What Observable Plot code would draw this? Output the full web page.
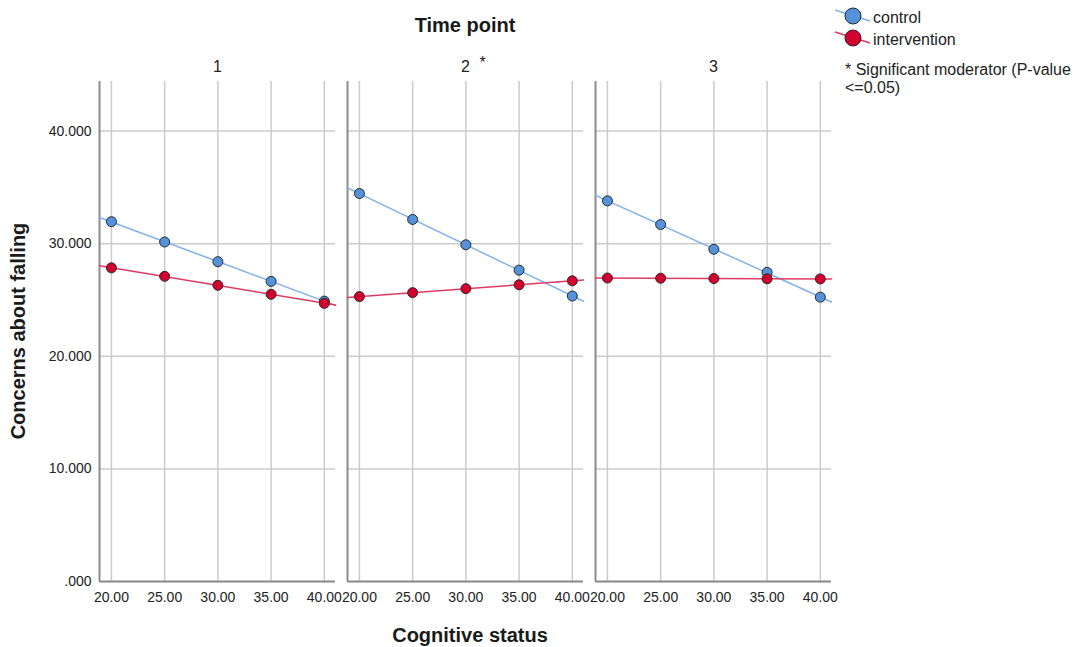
<!DOCTYPE html>
<html>
<head>
<meta charset="utf-8">
<script src="https://cdn.jsdelivr.net/npm/d3@7"></script>
<script src="https://cdn.jsdelivr.net/npm/@observablehq/plot@0.6"></script>
<style>
  html, body { margin: 0; padding: 0; background: #fff; }
  #wrap { position: relative; width: 1090px; height: 647px; font-family: "Liberation Sans", Arial, sans-serif; color: #1a1a1a; }
  .lbl { position: absolute; white-space: nowrap; }
</style>
</head>
<body>
<div id="wrap"></div>
<script>
// ---- data ----
const cognitive = [20, 25, 30, 35, 40];
const timePoints = [1, 2, 3];
const groups = ["control", "intervention"];
const yTicks = [0, 10, 20, 30, 40];
const control_t1 = [31.95, 30.15, 28.4, 26.65, 24.9];
const intervention_t1 = [27.85, 27.1, 26.3, 25.5, 24.7];
const control_t2 = [34.45, 32.15, 29.9, 27.65, 25.35];
const intervention_t2 = [25.3, 25.65, 26.0, 26.35, 26.7];
const control_t3 = [33.8, 31.7, 29.5, 27.45, 25.25];
const intervention_t3 = [26.95, 26.93, 26.9, 26.88, 26.87];
const significantTime = [2];

const dotColor = {control: "#5592dc", intervention: "#d2002f"};
const lineColor = {control: "#7fb1ec", intervention: "#e03a62"};

const series = {
  control: [control_t1, control_t2, control_t3],
  intervention: [intervention_t1, intervention_t2, intervention_t3]
};

const rows = [];
for (const g of groups) {
  timePoints.forEach((t, i) => {
    series[g][i].forEach((v, j) => rows.push({group: g, time: t, x: cognitive[j], y: v}));
  });
}

const xDomain = [18.88, 41.05];
// fitted lines (least squares) extended across the panel
const fitRows = [];
for (const g of groups) {
  for (const t of timePoints) {
    const pts = rows.filter(d => d.group === g && d.time === t);
    const mx = d3.mean(pts, d => d.x), my = d3.mean(pts, d => d.y);
    const b = d3.sum(pts, d => (d.x - mx) * (d.y - my)) / d3.sum(pts, d => (d.x - mx) ** 2);
    const a = my - b * mx;
    for (const x of xDomain) fitRows.push({group: g, time: t, x, y: a + b * x});
  }
}

const marks = [
  Plot.gridY(yTicks, {stroke: "#cbcbcb", strokeOpacity: 1, strokeWidth: 1.5}),
  Plot.gridX(cognitive, {stroke: "#cbcbcb", strokeOpacity: 1, strokeWidth: 1.5}),
  Plot.ruleX([xDomain[0]], {stroke: "#8c8c8c", strokeWidth: 2}),
  Plot.ruleY([0], {stroke: "#8c8c8c", strokeWidth: 2}),
  Plot.axisY(yTicks, {tickSize: 0, tickPadding: 8, fontSize: 14, label: null,
    tickFormat: d => d === 0 ? ".000" : d.toFixed(3)}),
  Plot.axisX(cognitive, {tickSize: 0, tickPadding: 11, fontSize: 14, label: null,
    tickFormat: d => d.toFixed(2)}),
  Plot.text(timePoints, {fx: d => d, text: d => String(d), frameAnchor: "top", dy: -21, fontSize: 16, fill: "#222"}),
  Plot.text(significantTime, {fx: d => d, text: () => "*", frameAnchor: "top", dx: 17, dy: -25, fontSize: 16, fill: "#222"})
];
for (const g of groups) {
  marks.push(Plot.line(fitRows.filter(d => d.group === g), {x: "x", y: "y", fx: "time", stroke: lineColor[g], strokeWidth: 1.5}));
}
for (const g of groups) {
  marks.push(Plot.dot(rows.filter(d => d.group === g), {x: "x", y: "y", fx: "time", r: 5, fill: dotColor[g], stroke: "#2a2a2a", strokeWidth: 1}));
}

const chart = Plot.plot({
  width: 1090, height: 647,
  marginLeft: 98, marginRight: 258, marginTop: 81, marginBottom: 66,
  style: {fontFamily: "'Liberation Sans', Arial, sans-serif", fontSize: "14px", color: "#222", background: "white"},
  x: {domain: xDomain, label: null},
  y: {domain: [0, 44.4], label: null},
  fx: {domain: timePoints, paddingInner: 0.048, paddingOuter: 0, label: null, axis: null},
  marks
});

const wrap = document.getElementById("wrap");
wrap.appendChild(chart);

function addLabel(text, css) {
  const d = document.createElement("div");
  d.className = "lbl";
  d.textContent = text;
  Object.assign(d.style, css);
  wrap.appendChild(d);
  return d;
}
addLabel("Time point", {left: "465px", top: "14px", transform: "translateX(-50%)", fontSize: "20px", fontWeight: "bold"});
addLabel("Cognitive status", {left: "470px", top: "624px", transform: "translateX(-50%)", fontSize: "20px", fontWeight: "bold"});
addLabel("Concerns about falling", {left: "18px", top: "331px", transform: "translate(-50%, -50%) rotate(-90deg)", fontSize: "20px", fontWeight: "bold"});

// legend
const leg = d3.select(wrap).append("svg")
  .attr("width", 250).attr("height", 110)
  .style("position", "absolute").style("left", "830px").style("top", "0px")
  .style("font-family", "'Liberation Sans', Arial, sans-serif");
groups.forEach((g, i) => {
  const cy = 16 + i * 22;
  leg.append("line").attr("x1", 5).attr("y1", cy - 6).attr("x2", 40).attr("y2", cy + 5)
    .attr("stroke", lineColor[g]).attr("stroke-width", 1.5);
  leg.append("circle").attr("cx", 23).attr("cy", cy).attr("r", 8)
    .attr("fill", dotColor[g]).attr("stroke", "#2a2a2a").attr("stroke-width", 1);
  leg.append("text").attr("x", 43).attr("y", cy + 7).attr("font-size", 16).attr("fill", "#222").text(g);
});
leg.append("text").attr("x", 15).attr("y", 75).attr("font-size", 16).attr("fill", "#222").text("* Significant moderator (P-value");
leg.append("text").attr("x", 15).attr("y", 93).attr("font-size", 16).attr("fill", "#222").text("<=0.05)");
</script>
</body>
</html>
